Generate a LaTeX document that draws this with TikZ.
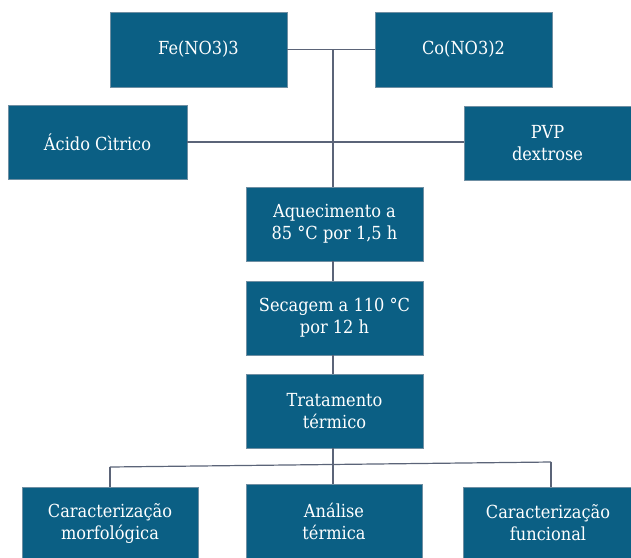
\documentclass[tikz,border=0pt]{standalone}
\usepackage{fontspec}
\setmainfont{DejaVu Serif Condensed}
\definecolor{boxblue}{HTML}{0B5F84}
\definecolor{edgegray}{HTML}{6F8FA3}
\definecolor{linegray}{HTML}{5B6478}
\begin{document}
\begin{tikzpicture}[x=1pt,y=-1pt,
  box/.style={fill=boxblue,draw=edgegray,line width=0.6pt,text=white,align=center,
    inner sep=0pt,font=\fontsize{18}{22}\selectfont},
  conn/.style={draw=linegray,line width=1.2pt}]
\useasboundingbox (0,0) rectangle (631,557);
\node[box,minimum width=177,minimum height=75] (fe) at (198.5,49.5) {Fe(NO3)3};
\node[box,minimum width=177,minimum height=75] (co) at (463.5,49.5) {Co(NO3)2};
\node[box,minimum width=179,minimum height=74] (ac) at (97.5,142) {Ácido Cìtrico};
\node[box,minimum width=167,minimum height=74] (pvp) at (547.5,143) {PVP\\dextrose};
\node[box,minimum width=177,minimum height=74] (aq) at (334.5,224) {Aquecimento a\\85 °C por 1,5 h};
\node[box,minimum width=177,minimum height=74] (sec) at (334.5,318) {Secagem a 110 °C\\por 12 h};
\node[box,minimum width=177,minimum height=74] (tr) at (334.5,411) {Tratamento\\térmico};
\node[box,minimum width=176,minimum height=72] (mo) at (110,523) {Caracterização\\morfológica};
\node[box,minimum width=176,minimum height=75] (an) at (334,521.5) {Análise\\térmica};
\node[box,minimum width=170,minimum height=72] (fu) at (548,523) {Caracterização\\funcional};
\coordinate (top) at (333,49.5);
\coordinate (bl) at (110,467);
\coordinate (br) at (551,462);
\draw[conn] (fe.east) -- (co.west);
\draw[conn] (ac.east) -- (ac.east -| pvp.west);
\draw[conn] (top) -- (top |- aq.north);
\draw[conn] (aq.south -| top) -- (sec.north -| top);
\draw[conn] (sec.south -| top) -- (tr.north -| top);
\draw[conn] (tr.south -| top) -- (an.north -| top);
\draw[conn] (bl) -- (br);
\draw[conn] (bl) -- (mo.north);
\draw[conn] (br) -- (br |- fu.north);
\end{tikzpicture}
\end{document}
